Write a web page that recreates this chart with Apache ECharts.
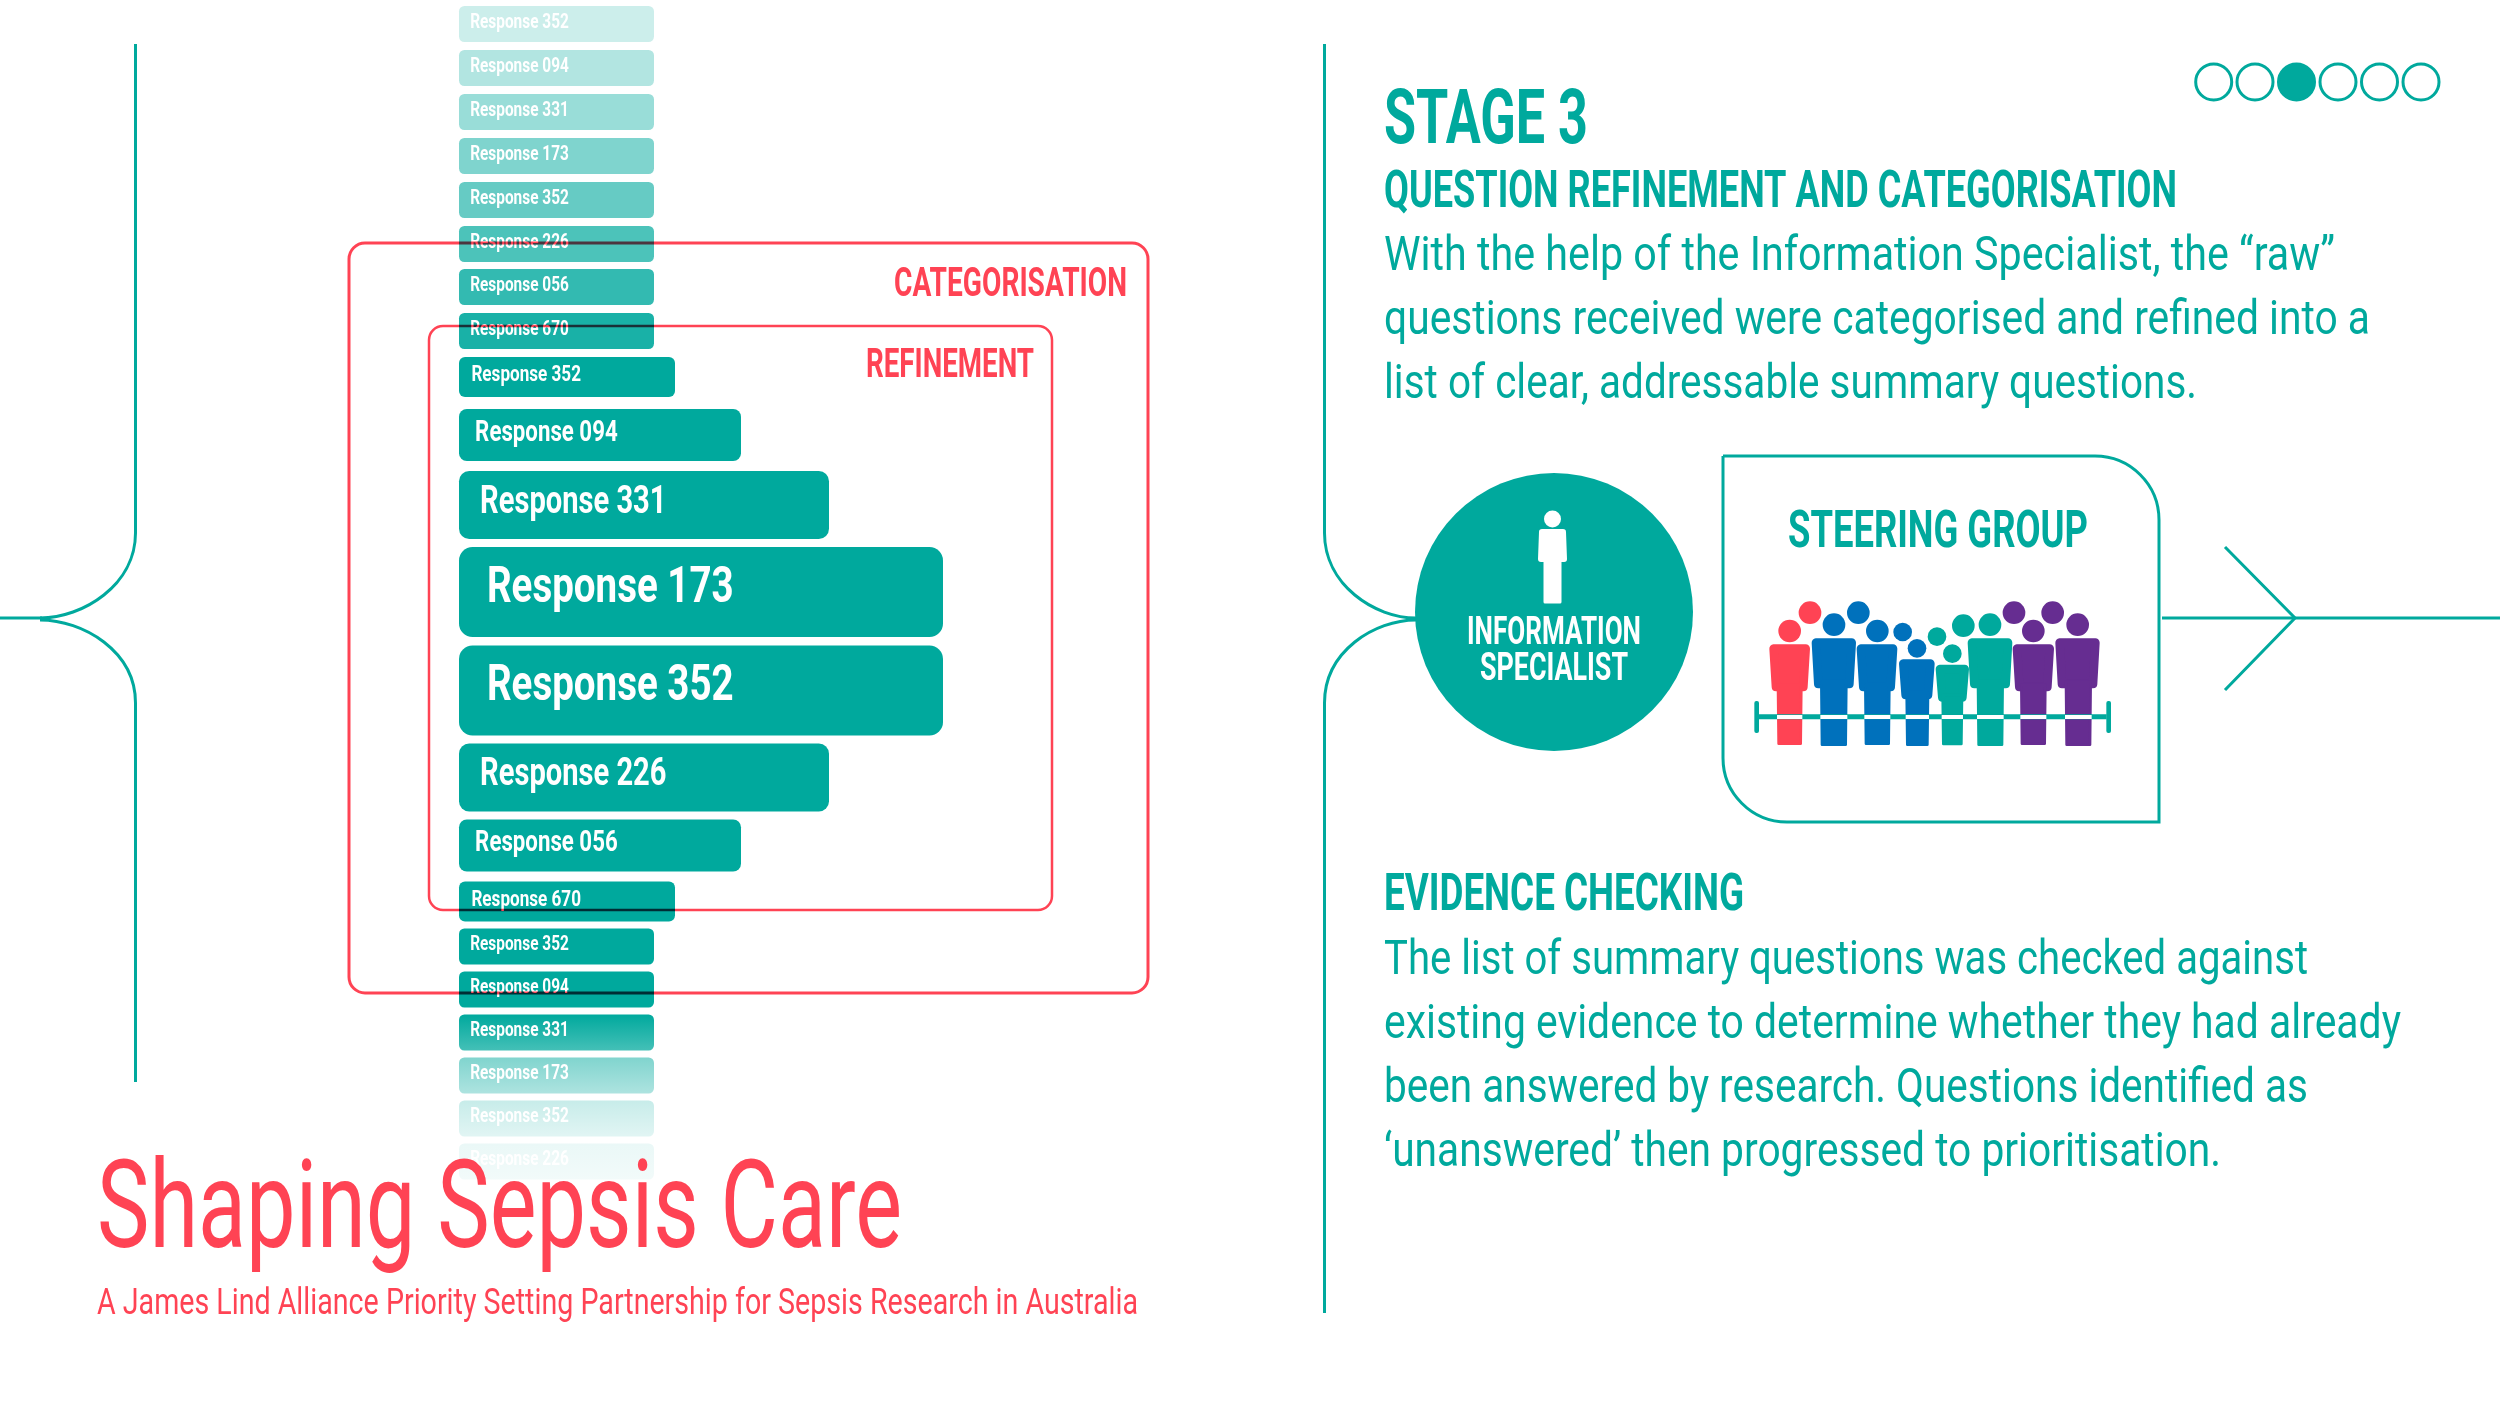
<!DOCTYPE html>
<html>
<head>
<meta charset="utf-8">
<title>Shaping Sepsis Care</title>
<script src="https://cdn.jsdelivr.net/npm/echarts@6/dist/echarts.min.js"></script>
<style>
html,body{margin:0;padding:0;background:#fff}
#container{width:2500px;height:1406px}
</style>
</head>
<body>
<div id="container"></div>
<script>
// the column of responses, top to bottom
var responseLabels = ['Response 352','Response 094','Response 331','Response 173','Response 352','Response 226','Response 056','Response 670',
    'Response 352','Response 094','Response 331','Response 173','Response 352','Response 226','Response 056','Response 670',
    'Response 352','Response 094','Response 331','Response 173','Response 352','Response 226'];
var responseLengths = [195,195,195,195,195,195,195,195,216,282,370,484,484,370,282,216,195,195,195,195,195,195];
var responseWeights = [36,36,36,36,36,36,36,36,40,52,68,90,90,68,52,40,36,36,36,36,36,36];
var responseGaps = [6,8,8,8,8,8,7,8,8,12,10,8,8.5,8,8,10,7,7,7,7,7,7];

var bodyLines1 = ['With the help of the Information Specialist, the “raw”','questions received were categorised and refined into a','list of clear, addressable summary questions.'];
var bodyLines2 = ['The list of summary questions was checked against','existing evidence to determine whether they had already','been answered by research. Questions identified as','‘unanswered’ then progressed to prioritisation.'];

var TEAL = '#00A99D', RED = '#FF4354', BLUE = '#0071BC', PURPLE = '#662D91';
var FONT = 'Roboto';

var measureCtx = document.createElement('canvas').getContext('2d');
// text squeezed horizontally to the width it has in the picture
function fitText(str, x, baseline, size, weight, width, color, align) {
    var font = weight + ' ' + size + 'px ' + FONT;
    measureCtx.font = font;
    var sx = width / measureCtx.measureText(str).width;
    return {
        type: 'text', x: x, y: baseline - size * 0.25, scaleX: sx, z: 20,
        style: { text: str, font: font, fill: color, textAlign: align || 'left', textVerticalAlign: 'middle' }
    };
}

function fadeAt(y) {
    var stops = [[1030,1],[1050,0.75],[1057,0.5],[1093,0.33],[1100,0.22],[1136,0.12],[1144,0.08],[1180,0.05]];
    if (y <= stops[0][0]) return 1;
    for (var i = 1; i < stops.length; i++) {
        if (y <= stops[i][0]) {
            var t = (y - stops[i-1][0]) / (stops[i][0] - stops[i-1][0]);
            return stops[i-1][1] + t * (stops[i][1] - stops[i-1][1]);
        }
    }
    return 0.05;
}

var seriesData = [];
var acc = 0;
for (var i = 0; i < responseLabels.length; i++) {
    acc += responseGaps[i];
    seriesData.push([responseLengths[i], acc, responseWeights[i], i]);
    acc += responseWeights[i];
}

function renderBar(params, api) {
    var idx = api.value(3);
    var h = api.value(2);
    var start = api.coord([0, api.value(1)]);
    var end = api.coord([api.value(0), api.value(1) + h]);
    var top = start[1], w = end[0] - start[0], pxH = end[1] - start[1];
    var fill;
    if (idx < 8) {
        fill = 'rgba(0,169,157,' + (0.2 + idx * 0.1) + ')';
    } else {
        fill = new echarts.graphic.LinearGradient(0, 0, 0, 1, [
            { offset: 0, color: 'rgba(0,169,157,' + fadeAt(top) + ')' },
            { offset: 1, color: 'rgba(0,169,157,' + fadeAt(top + pxH) + ')' }
        ]);
    }
    var size = pxH * 0.4 / 0.71;
    var labelFont = '700 ' + size + 'px ' + FONT;
    return {
        type: 'group',
        children: [{
            type: 'rect',
            shape: { x: start[0], y: top, width: w, height: pxH, r: pxH * 0.15 },
            style: { fill: fill }
        }, {
            type: 'text',
            x: start[0] + pxH * 0.31,
            y: top + pxH * 0.47,
            scaleX: 0.76,
            style: { text: responseLabels[idx], font: labelFont, fill: '#fff', textVerticalAlign: 'middle' }
        }]
    };
}

function seg(x1, y1, x2, y2, w, c) {
    return { type: 'line', z: 5, shape: { x1: x1, y1: y1, x2: x2, y2: y2 }, style: { stroke: c || TEAL, lineWidth: w || 3 } };
}
// bracket that opens at the mid line: two quarter curves meeting near x = tip
function bracket(x, tip, yTop, yBottom) {
    var out = [];
    out.push(seg(x, yTop, x, 533));
    out.push({ type: 'bezierCurve', z: 5, shape: { x1: x, y1: 533, cpx1: x, cpy1: 585, cpx2: x + (tip - x) * 0.55, cpy2: 618, x2: tip, y2: 618 }, style: { stroke: TEAL, lineWidth: 3, fill: 'none' } });
    out.push(seg(x, 703, x, yBottom));
    out.push({ type: 'bezierCurve', z: 5, shape: { x1: x, y1: 703, cpx1: x, cpy1: 651, cpx2: x + (tip - x) * 0.55, cpy2: 620, x2: tip, y2: 620 }, style: { stroke: TEAL, lineWidth: 3, fill: 'none' } });
    return out;
}

// figure with the shapes
function person(ox, oy, k, b, color) {
    var px = function (v) { return ox + v * k; }, py = function (v) { return oy + v * k; };
    var rd = 13, taper = 7;
    var els = [];
    els.push({ type: 'circle', z: 6, shape: { cx: px(b.hx), cy: py(b.hy), r: b.hr * k }, style: { fill: color } });
    els.push({ type: 'polygon', z: 6, shape: { points: [
        [px(b.x0 + rd), py(b.top + rd)], [px(b.x1 - rd), py(b.top + rd)],
        [px(b.x1 - rd - taper), py(b.hip - rd)], [px(b.x0 + rd + taper), py(b.hip - rd)]
    ] }, style: { fill: color, stroke: color, lineWidth: rd * 2 * k, lineJoin: 'round' } });
    els.push({ type: 'polygon', z: 6, shape: { points: [
        [px(b.l0 + 4), py(b.hip - 20)], [px(b.l1 - 4), py(b.hip - 20)],
        [px(b.l1 - 6), py(b.bottom - 4)], [px(b.l0 + 6), py(b.bottom - 4)]
    ] }, style: { fill: color, stroke: color, lineWidth: 8 * k, lineJoin: 'round' } });
    return els;
}

var graphicEls = [];
graphicEls = graphicEls.concat(bracket(135.5, 40, 44, 1082));
graphicEls.push(seg(0, 618, 42, 618));
graphicEls = graphicEls.concat(bracket(1324.5, 1416, 44, 1313));

// red outlines multiply over the bars
graphicEls.push({ type: 'rect', z: 15, shape: { x: 349, y: 243, width: 799, height: 750, r: 16 }, style: { fill: 'none', stroke: RED, lineWidth: 3, blend: 'multiply' } });
graphicEls.push({ type: 'rect', z: 15, shape: { x: 429, y: 326, width: 623, height: 584, r: 14 }, style: { fill: 'none', stroke: RED, lineWidth: 2.5, blend: 'multiply' } });
graphicEls.push(fitText('CATEGORISATION', 1127, 295.5, 41, 700, 233, RED, 'right'));
graphicEls.push(fitText('REFINEMENT', 1034, 377, 41, 700, 168, RED, 'right'));

// title block
graphicEls.push(fitText('Shaping Sepsis Care', 97, 1247, 122, 400, 805, RED));
graphicEls.push(fitText('A James Lind Alliance Priority Setting Partnership for Sepsis Research in Australia', 97, 1314, 37, 400, 1041, RED));

// right hand text
graphicEls.push(fitText('STAGE 3', 1384, 143, 76, 700, 204, TEAL));
graphicEls.push(fitText('QUESTION REFINEMENT AND CATEGORISATION', 1384, 207, 52, 700, 793, TEAL));
var w1 = [951, 986, 813], w2 = [924, 1017, 924, 837];
bodyLines1.forEach(function (s, i) { graphicEls.push(fitText(s, 1384, 270 + i * 64, 49, 400, w1[i], TEAL)); });
graphicEls.push(fitText('EVIDENCE CHECKING', 1384, 910, 52, 700, 360, TEAL));
bodyLines2.forEach(function (s, i) { graphicEls.push(fitText(s, 1384, 974 + i * 64, 49, 400, w2[i], TEAL)); });

// progress dots
[2213.7, 2255, 2296.5, 2338, 2379.5, 2421].forEach(function (cx, i) {
    graphicEls.push({ type: 'circle', z: 5, shape: { cx: cx, cy: 82, r: 18 }, style: i == 2 ? { fill: TEAL, stroke: TEAL, lineWidth: 3 } : { fill: 'none', stroke: TEAL, lineWidth: 3 } });
});

// information specialist
graphicEls.push({ type: 'circle', z: 5, shape: { cx: 1554, cy: 612, r: 139 }, style: { fill: TEAL } });
graphicEls.push({ type: 'circle', z: 6, shape: { cx: 1552.5, cy: 519, r: 8.5 }, style: { fill: '#fff' } });
graphicEls.push({ type: 'polygon', z: 6, shape: { points: [[1542,532],[1563,532],[1564,559],[1541,559]] }, style: { fill: '#fff', stroke: '#fff', lineWidth: 6, lineJoin: 'round' } });
graphicEls.push({ type: 'polygon', z: 6, shape: { points: [[1545,560],[1560,560],[1560,602],[1545,602]] }, style: { fill: '#fff', stroke: '#fff', lineWidth: 3, lineJoin: 'round' } });
graphicEls.push(fitText('INFORMATION', 1554, 644, 38, 700, 174, '#fff', 'center'));
graphicEls.push(fitText('SPECIALIST', 1554, 680, 38, 700, 148, '#fff', 'center'));

// steering group box: two rounded corners only
graphicEls.push({ type: 'rect', z: 5, shape: { x: 1723, y: 456, width: 436, height: 366, r: [0, 64, 0, 64] }, style: { fill: 'none', stroke: TEAL, lineWidth: 3 } });
graphicEls.push(fitText('STEERING GROUP', 1938, 547, 52, 700, 300, TEAL, 'center'));

// arrow
graphicEls.push(seg(2162, 618, 2500, 618));
graphicEls.push({ type: 'polyline', z: 5, shape: { points: [[2225, 547], [2295, 618], [2225, 690]] }, style: { stroke: TEAL, lineWidth: 3, fill: 'none' } });

// crowd icon, in the units of a 3x crop at (1700,580)
var ox = 1700, oy = 580, k = 1 / 3;
[[330,98,34,RED],[475,98,34,BLUE],[608,156,28,BLUE],[711,170,28,TEAL],[790,137,34,TEAL],[942,98,34,PURPLE],[1058,98,34,PURPLE]].forEach(function (h) {
    graphicEls.push({ type: 'circle', z: 6, shape: { cx: ox + h[0] * k, cy: oy + h[1] * k, r: h[2] * k }, style: { fill: h[3] } });
});
var people = [
    [{ x0: 208, x1: 330, top: 193, hip: 334, l0: 230, l1: 308, bottom: 495, hx: 269, hy: 153, hr: 34 }, RED],
    [{ x0: 335, x1: 468, top: 175, hip: 325, l0: 360, l1: 443, bottom: 498, hx: 402, hy: 134, hr: 34 }, BLUE],
    [{ x0: 470, x1: 592, top: 193, hip: 334, l0: 492, l1: 572, bottom: 495, hx: 532, hy: 153, hr: 34 }, BLUE],
    [{ x0: 597, x1: 704, top: 238, hip: 358, l0: 616, l1: 688, bottom: 498, hx: 651, hy: 205, hr: 28 }, BLUE],
    [{ x0: 707, x1: 807, top: 254, hip: 365, l0: 724, l1: 790, bottom: 496, hx: 757, hy: 221, hr: 28 }, TEAL],
    [{ x0: 803, x1: 937, top: 175, hip: 325, l0: 830, l1: 912, bottom: 498, hx: 870, hy: 134, hr: 34 }, TEAL],
    [{ x0: 938, x1: 1062, top: 193, hip: 334, l0: 960, l1: 1040, bottom: 495, hx: 1000, hy: 153, hr: 34 }, PURPLE],
    [{ x0: 1066, x1: 1199, top: 175, hip: 325, l0: 1094, l1: 1176, bottom: 498, hx: 1133, hy: 134, hr: 34 }, PURPLE]
];
people.forEach(function (p) { graphicEls = graphicEls.concat(person(ox, oy, k, p[0], p[1])); });
graphicEls.push({ type: 'rect', z: 7, shape: { x: ox + 175 * k, y: oy + 403 * k, width: 1045 * k, height: 15 * k }, style: { fill: TEAL } });
people.forEach(function (p) {
    graphicEls.push({ type: 'rect', z: 8, shape: { x: ox + (p[0].l0 + 1) * k, y: oy + 405 * k, width: (p[0].l1 - p[0].l0 - 2) * k, height: 12 * k }, style: { fill: '#fff' } });
});
[170, 1226].forEach(function (x) {
    graphicEls.push({ type: 'rect', z: 7, shape: { x: ox + (x - 7) * k, y: oy + 363 * k, width: 14 * k, height: 96 * k, r: 2 }, style: { fill: TEAL } });
});

var myChart = echarts.init(document.getElementById('container'));
var option = {
    backgroundColor: '#fff',
    animation: false,
    grid: { left: 0, right: 0, top: 0, bottom: 0 },
    xAxis: { type: 'value', min: -459, max: 2041, show: false },
    yAxis: { type: 'value', min: 0, max: 1406, inverse: true, show: false },
    series: [{
        type: 'custom',
        renderItem: renderBar,
        data: seriesData,
        clip: false,
        z: 1
    }],
    graphic: { elements: graphicEls }
};
myChart.setOption(option);
</script>
</body>
</html>
